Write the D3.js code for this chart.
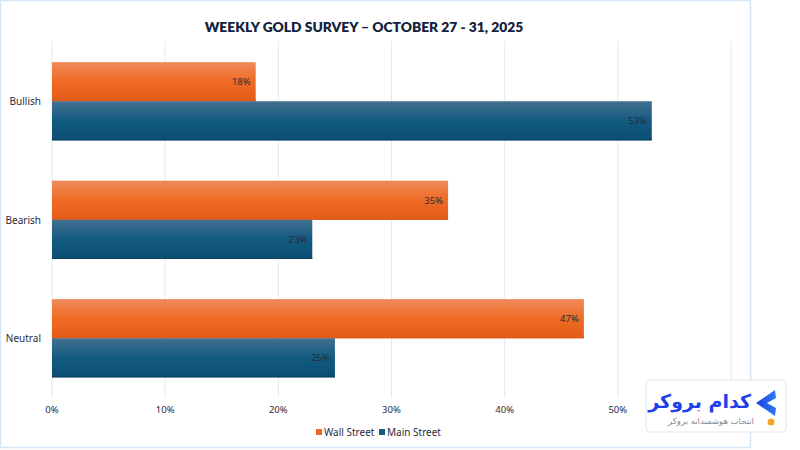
<!DOCTYPE html>
<html><head><meta charset="utf-8">
<script src="https://cdn.jsdelivr.net/npm/d3@7"></script>
<style>
html,body{margin:0;padding:0;background:#fff;}
svg{display:block;font-family:"Noto Sans",Lato,sans-serif;}
</style></head>
<body>
<script>
const categories = ["Bullish", "Bearish", "Neutral"];
const seriesNames = ["Wall Street", "Main Street"];
const wallStreet = [18, 35, 47];
const mainStreet = [53, 23, 25];
const xTicks = [0, 10, 20, 30, 40, 50, 60];
const title = "WEEKLY GOLD SURVEY – OCTOBER 27 - 31, 2025";

const W = 800, H = 450;
const svg = d3.select("body").append("svg").attr("width", W).attr("height", H);
const defs = svg.append("defs");

function grad(id, stops) {
  const g = defs.append("linearGradient").attr("id", id).attr("x1", 0).attr("y1", 0).attr("x2", 0).attr("y2", 1);
  stops.forEach(s => g.append("stop").attr("offset", s[0]).attr("stop-color", s[1]));
}
grad("gOrange", [[0, "#ef8a5a"], [0.5, "#ef6b24"], [1, "#e25c18"]]);
grad("gBlue", [[0, "#436f8e"], [0.5, "#135b81"], [1, "#0b4e73"]]);
const cg = defs.append("linearGradient").attr("id", "gChev").attr("x1", 0).attr("y1", 0).attr("x2", 1).attr("y2", 0);
cg.append("stop").attr("offset", 0).attr("stop-color", "#1a3fe0");
cg.append("stop").attr("offset", 1).attr("stop-color", "#2f7cf6");

// frame
svg.append("rect").attr("x", 0.5).attr("y", 0.5).attr("width", 750).attr("height", 447)
  .attr("fill", "#fff").attr("stroke", "#d6e6f7").attr("stroke-width", 1.5);

const x = d3.scaleLinear().domain([0, 60]).range([52, 731]);
const y0 = d3.scaleBand().domain(categories).range([42, 397.5]).paddingInner(0.34).paddingOuter(0.17);
const y1 = d3.scaleBand().domain(seriesNames).range([0, y0.bandwidth()]);

// gridlines
svg.append("g").selectAll("line").data(xTicks).join("line")
  .attr("x1", d => x(d)).attr("x2", d => x(d))
  .attr("y1", 41).attr("y2", 398)
  .attr("stroke", "#deebf6").attr("stroke-width", 1);

// title
svg.append("text").attr("x", 364).attr("y", 32).attr("text-anchor", "middle")
  .attr("font-family", "Lato, 'Noto Sans', sans-serif").attr("font-weight", 800)
  .attr("font-size", 13.8).attr("fill", "#14223d").text(title);

const data = seriesNames.map((s, i) => ({ name: s, values: i === 0 ? wallStreet : mainStreet }));
const fills = { "Wall Street": "url(#gOrange)", "Main Street": "url(#gBlue)" };
const legendColors = { "Wall Street": "#ee6a24", "Main Street": "#135b81" };

data.forEach(s => {
  const g = svg.append("g");
  g.selectAll("rect").data(s.values).join("rect")
    .attr("x", x(0))
    .attr("y", (d, i) => y0(categories[i]) + y1(s.name))
    .attr("width", d => x(d) - x(0))
    .attr("height", y1.bandwidth())
    .attr("fill", fills[s.name]);
  g.selectAll("line.b").data(s.values).join("line")
    .attr("x1", x(0)).attr("x2", d => x(d))
    .attr("y1", (d, i) => y0(categories[i]) + y1(s.name) + y1.bandwidth() - 0.5)
    .attr("y2", (d, i) => y0(categories[i]) + y1(s.name) + y1.bandwidth() - 0.5)
    .attr("stroke", s.name === "Wall Street" ? "#d9561a" : "#08405f").attr("stroke-width", 1);
  g.selectAll("text").data(s.values).join("text")
    .attr("x", d => x(d) - 5)
    .attr("y", (d, i) => y0(categories[i]) + y1(s.name) + y1.bandwidth() / 2 + 3.5)
    .attr("text-anchor", "end").attr("font-size", 9.5).attr("fill", "#2a2a3a")
    .text(d => d + "%");
});

// category labels
svg.append("g").selectAll("text").data(categories).join("text")
  .attr("x", 41).attr("y", d => y0(d) + y0.bandwidth() / 2 + 4)
  .attr("text-anchor", "end").attr("font-size", 10).attr("fill", "#2a2a3a").text(d => d);

// x tick labels
svg.append("g").selectAll("text").data(xTicks.slice(0, 6)).join("text")
  .attr("x", d => x(d)).attr("y", 413)
  .attr("text-anchor", "middle").attr("font-size", 9.5).attr("fill", "#2a2a3a").text(d => d + "%");

// legend
const leg = svg.append("g");
const legX = [316, 379];
seriesNames.forEach((s, i) => {
  leg.append("rect").attr("x", legX[i]).attr("y", 429).attr("width", 6).attr("height", 6).attr("fill", legendColors[s]);
  leg.append("text").attr("x", legX[i] + 8).attr("y", 436).attr("font-size", 10).attr("fill", "#2a2a3a").text(s);
});

// logo
const lg = svg.append("g");
lg.append("rect").attr("x", 646).attr("y", 380).attr("width", 140).attr("height", 52).attr("rx", 4)
  .attr("fill", "#fff").attr("stroke", "#e4e6ea");
lg.append("text").attr("x", 751).attr("y", 408).attr("text-anchor", "end")
  .attr("font-family", "'DejaVu Sans', sans-serif").attr("font-weight", "bold")
  .attr("font-size", 19).attr("fill", "#1f3fe8").text("کدام بروکر");
lg.append("text").attr("x", 754).attr("y", 424).attr("text-anchor", "end")
  .attr("font-family", "'DejaVu Sans', sans-serif")
  .attr("font-size", 8.5).attr("fill", "#8a8a8a").text("انتخاب هوشمندانه بروکر");
lg.append("path").attr("d", "M775,390 L756,403 L775,416 L776,408 L767,403 L776,398 Z").attr("fill", "url(#gChev)");
lg.append("circle").attr("cx", 771).attr("cy", 422).attr("r", 3.5).attr("fill", "#f5a623");
</script>
</body></html>
